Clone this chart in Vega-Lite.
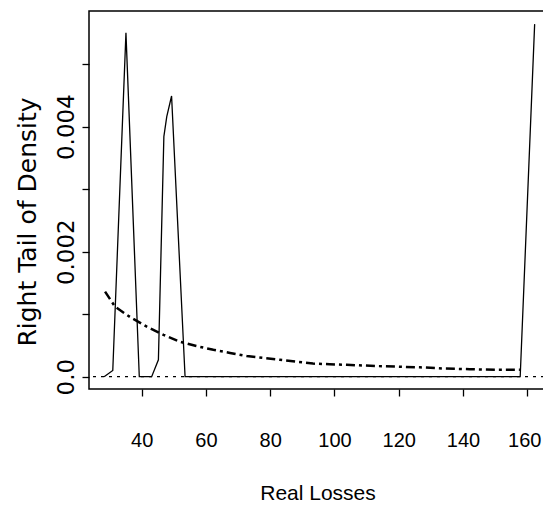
{
  "$schema": "https://vega.github.io/schema/vega-lite/v6.json",
  "width": 463,
  "height": 378,
  "autosize": {"type": "none"},
  "padding": {"left": 89, "top": 11, "right": 0, "bottom": 119},
  "background": "white",
  "config": {
    "view": {"stroke": "black", "strokeWidth": 1.5},
    "axis": {"grid": false, "domain": false, "tickColor": "black", "tickWidth": 1.3, "tickSize": 7, "labelColor": "black", "titleColor": "black", "titleFontWeight": "normal", "labelOverlap": false, "labelFlush": false}
  },
  "datasets": {
    "density": [
      {"loss": 28.3, "dens": 0},
      {"loss": 31.0, "dens": 0.0001},
      {"loss": 35.1, "dens": 0.0055},
      {"loss": 39.25, "dens": 0},
      {"loss": 43.1, "dens": 0},
      {"loss": 45.2, "dens": 0.00027},
      {"loss": 46.9, "dens": 0.00384},
      {"loss": 47.8, "dens": 0.00416},
      {"loss": 49.3, "dens": 0.00449},
      {"loss": 53.5, "dens": 0},
      {"loss": 157.8, "dens": 0},
      {"loss": 162.3, "dens": 0.00564}
    ],
    "tail": [
      {"loss": 28.6, "dens": 0.00136},
      {"loss": 31.7, "dens": 0.00112},
      {"loss": 36.5, "dens": 0.00095},
      {"loss": 41.6, "dens": 0.0008},
      {"loss": 46.8, "dens": 0.00067},
      {"loss": 51.9, "dens": 0.00056},
      {"loss": 57.0, "dens": 0.00049},
      {"loss": 62.3, "dens": 0.00043},
      {"loss": 67.5, "dens": 0.00038},
      {"loss": 72.7, "dens": 0.00033},
      {"loss": 78.0, "dens": 0.0003},
      {"loss": 83.0, "dens": 0.00027},
      {"loss": 88.0, "dens": 0.00024},
      {"loss": 93.3, "dens": 0.00021},
      {"loss": 98.5, "dens": 0.0002},
      {"loss": 103.8, "dens": 0.00019},
      {"loss": 113.1, "dens": 0.00017},
      {"loss": 120.0, "dens": 0.00016},
      {"loss": 126.6, "dens": 0.00015},
      {"loss": 134.0, "dens": 0.00013},
      {"loss": 142.1, "dens": 0.00012},
      {"loss": 150.0, "dens": 0.00011},
      {"loss": 157.7, "dens": 0.00011}
    ]
  },
  "layer": [
    {
      "data": {"name": "density"},
      "mark": {"type": "line", "color": "black", "strokeWidth": 1.3, "clip": true},
      "encoding": {
        "x": {
          "field": "loss", "type": "quantitative",
          "scale": {"domain": [23.6, 167.7], "nice": false, "zero": false},
          "axis": {
            "values": [40, 60, 80, 100, 120, 140, 160], "format": "d",
            "labelFont": "Liberation Sans", "labelFontSize": 20,
            "labelOffset": {"condition": {"test": "datum.value == 160", "value": -3}, "value": 0},
            "labelBaseline": "alphabetic", "labelPadding": 50.7,
            "title": "Real Losses", "titleFont": "Liberation Sans", "titleFontSize": 21,
            "titleX": 228.5, "titleY": 110.3, "titleBaseline": "alphabetic", "titleAlign": "center"
          }
        },
        "y": {
          "field": "dens", "type": "quantitative",
          "scale": {"domain": [-0.000197, 0.00585], "nice": false, "zero": false},
          "axis": {
            "values": [0, 0.001, 0.002, 0.003, 0.004, 0.005],
            "labelExpr": "datum.value == 0 ? '0.0' : (datum.value == 0.002 ? '0.002' : (datum.value == 0.004 ? '0.004' : ''))",
            "labelAngle": 270, "labelAlign": "center", "labelBaseline": "alphabetic", "labelPadding": 8.7,
            "labelFont": "DejaVu Sans", "labelFontSize": 23,
            "title": "Right Tail of Density", "titleFont": "DejaVu Sans", "titleFontSize": 25,
            "titleAngle": 270, "titleBaseline": "alphabetic", "titleAlign": "center",
            "titleX": -54, "titleY": 210.5
          }
        }
      }
    },
    {
      "data": {"name": "tail"},
      "mark": {"type": "line", "color": "black", "strokeWidth": 2.5, "strokeDash": [9, 4, 3, 4], "clip": true},
      "encoding": {
        "x": {"field": "loss", "type": "quantitative"},
        "y": {"field": "dens", "type": "quantitative"}
      }
    },
    {
      "data": {"values": [{"h": 0}]},
      "mark": {"type": "rule", "color": "black", "strokeWidth": 1.3, "strokeDash": [3, 5]},
      "encoding": {"y": {"field": "h", "type": "quantitative"}}
    }
  ]
}
